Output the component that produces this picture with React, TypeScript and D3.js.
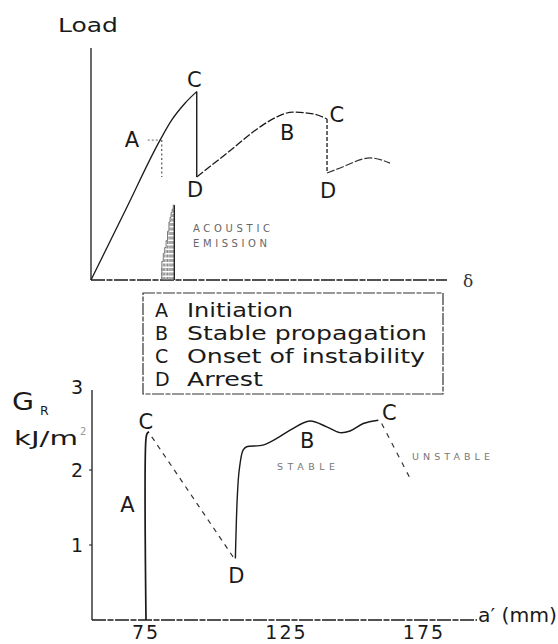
import React from "react";
import * as d3 from "d3";

// ---- Load–displacement record (arbitrary units: δ 0–100, load 0–100) ----
const loadInitiation: [number, number][] = [[0, 0], [9.7, 30.2], [19.4, 60.3], [22.7, 69], [26.4, 76.2], [29.7, 81.2]];
const loadFirstDrop: [number, number][] = [[29.7, 81.2], [29.7, 44.4]];
const loadStable: [number, number][] = [[29.7, 44.4], [38.2, 54.7], [47.5, 66], [52.2, 70.3], [56.7, 72.4], [62.4, 71.6], [66.3, 69.4]];
const loadSecondDrop: [number, number][] = [[66.3, 69.4], [66.3, 46.1]];
const loadTail: [number, number][] = [[66.3, 46.1], [70, 48.3], [78.4, 52.6], [84, 50.4]];
// initiation marker (δ, load)
const initiationPoint: [number, number] = [19.6, 60.3];
// acoustic emission bursts (δ, amplitude)
const acousticEmission: [number, number][] = [
  [19.9, 5.7], [20.3, 8], [20.7, 11.5], [21.1, 14], [21.5, 17], [21.9, 21], [22.2, 25], [22.5, 27], [22.8, 29], [23.1, 30.5], [23.4, 32.3],
];
const topLabels: { t: string; d: number; l: number }[] = [
  { t: "A", d: 9.5, l: 57.3 },
  { t: "C", d: 27.0, l: 83.0 },
  { t: "D", d: 27.0, l: 35.8 },
  { t: "B", d: 53.1, l: 60.3 },
  { t: "C", d: 67.0, l: 68.1 },
  { t: "D", d: 64.3, l: 35.3 },
];

// ---- Crack resistance G_R versus crack length a′ ----
const gInitiation: [number, number][] = [[75, 0], [75, 2.38], [75.4, 2.44], [76.1, 2.46]];
const gUnstable1: [number, number][] = [[77.1, 2.4], [106.7, 0.84]];
const gStable: [number, number][] = [
  [107.5, 0.82], [108.2, 1.64], [108.9, 2.0], [110.3, 2.24], [111.6, 2.28], [117.5, 2.3], [123, 2.39],
  [127.4, 2.48], [134.6, 2.59], [140.7, 2.52], [145.5, 2.45], [149.2, 2.47], [154, 2.56], [159.5, 2.6],
];
const gUnstable2: [number, number][] = [[160.7, 2.56], [171, 1.89]];
const gTicks = [1, 2, 3];
const aTicks = [75, 125, 175];
const bottomLabels: { t: string; a: number; g: number }[] = [
  { t: "C", a: 72.3, g: 2.5 },
  { t: "A", a: 65.6, g: 1.44 },
  { t: "D", a: 104.9, g: 0.49 },
  { t: "B", a: 131.0, g: 2.26 },
  { t: "C", a: 160.8, g: 2.6 },
];

const legendKeys = ["A", "B", "C", "D"];
const legendItems = ["Initiation", "Stable propagation", "Onset of instability", "Arrest"];
const legendWidths = [106, 240, 238, 76];

const FONT = "'DejaVu Sans', Verdana, sans-serif";
const INK = "#1a1a1a";

export default function App() {
  // top panel scales
  const xT = d3.scaleLinear().domain([0, 100]).range([91, 447]);
  const yT = d3.scaleLinear().domain([0, 100]).range([280, 48]);
  // bottom panel scales
  const xB = d3.scaleLinear().domain([75, 175]).range([146, 421]);
  const yB = d3.scaleLinear().domain([0, 1, 2, 3]).range([620, 545, 470, 387]);

  const lineT = d3.line<[number, number]>().x((d) => xT(d[0])).y((d) => yT(d[1])).curve(d3.curveMonotoneX);
  const lineTStraight = d3.line<[number, number]>().x((d) => xT(d[0])).y((d) => yT(d[1]));
  const lineB = d3.line<[number, number]>().x((d) => xB(d[0])).y((d) => yB(d[1])).curve(d3.curveCatmullRom);
  const lineBStraight = d3.line<[number, number]>().x((d) => xB(d[0])).y((d) => yB(d[1]));

  const bLeft = 92;
  const bRight = 477;
  const last = acousticEmission.length - 1;

  return (
    <svg
      width={558}
      height={644}
      viewBox="0 0 558 644"
      style={{ position: "absolute", left: 0, top: 0, background: "#fff" }}
      fontFamily={FONT}
    >
      <rect width={558} height={644} fill="#fff" />

      {/* ===== Load vs δ ===== */}
      <text x={58} y={32} fontSize={19} fill={INK} textLength={60} lengthAdjust="spacingAndGlyphs">Load</text>
      <line x1={xT(0)} y1={yT(0)} x2={xT(0)} y2={yT(100)} stroke={INK} strokeWidth={1.3} />
      <line x1={xT(0)} y1={yT(0)} x2={xT(100)} y2={yT(0)} stroke={INK} strokeWidth={1.3} strokeDasharray="14,1.5,6,1.5" />
      <text x={xT(100) + 16} y={yT(0) + 7} fontSize={17} fontFamily="'DejaVu Serif', serif" fill="#333">δ</text>

      {/* acoustic emission trace */}
      {acousticEmission.map((d, i) => (
        <line
          key={i}
          x1={xT(d[0])}
          x2={xT(d[0])}
          y1={yT(0)}
          y2={yT(d[1])}
          stroke={i === last ? "#222" : "#888"}
          strokeWidth={i === last ? 1.4 : 1}
          strokeDasharray={i === last ? undefined : "3,1.5"}
        />
      ))}
      <path
        d={d3.line<[number, number]>().x((d) => xT(d[0])).y((d) => yT(d[1])).curve(d3.curveStepBefore)([[acousticEmission[0][0], 0], ...acousticEmission]) || ""}
        fill="none"
        stroke="#666"
        strokeWidth={0.9}
      />
      <text x={193} y={232} fontSize={10} fill="#666" textLength={77} lengthAdjust="spacing">ACOUSTIC</text>
      <text x={193} y={247} fontSize={10} fill="#666" textLength={74} lengthAdjust="spacing">EMISSION</text>

      {/* initiation guides */}
      <line x1={xT(initiationPoint[0]) - 13} x2={xT(initiationPoint[0])} y1={yT(initiationPoint[1])} y2={yT(initiationPoint[1])} stroke="#666" strokeWidth={1} strokeDasharray="2,2" />
      <line x1={xT(initiationPoint[0]) + 1} x2={xT(initiationPoint[0]) + 1} y1={yT(initiationPoint[1])} y2={yT(initiationPoint[1]) + 37} stroke="#444" strokeWidth={1.1} strokeDasharray="2,2.5" />

      <path d={lineT(loadInitiation) || ""} fill="none" stroke={INK} strokeWidth={1.3} />
      <path d={lineTStraight(loadFirstDrop) || ""} fill="none" stroke={INK} strokeWidth={1.4} />
      <path d={lineT(loadStable) || ""} fill="none" stroke={INK} strokeWidth={1.3} strokeDasharray="8,2" />
      <path d={lineTStraight(loadSecondDrop) || ""} fill="none" stroke={INK} strokeWidth={1.3} strokeDasharray="4,2" />
      <path d={lineT(loadTail) || ""} fill="none" stroke="#333" strokeWidth={1.2} strokeDasharray="8,2" />

      {topLabels.map((l, i) => (
        <text key={i} x={xT(l.d)} y={yT(l.l)} fontSize={21} fill={INK}>{l.t}</text>
      ))}

      {/* legend */}
      <rect x={143} y={293} width={300} height={101} fill="none" stroke="#333" strokeWidth={1.2} strokeDasharray="12,1.5,5,1.5" />
      {legendItems.map((item, i) => (
        <g key={item}>
          <text x={155} y={317 + i * 23} fontSize={19} fill={INK}>{legendKeys[i]}</text>
          <text x={187} y={317 + i * 23} fontSize={19} fill={INK} textLength={legendWidths[i]} lengthAdjust="spacingAndGlyphs">{item}</text>
        </g>
      ))}

      {/* ===== G_R vs a′ ===== */}
      <text x={12} y={410} fontSize={24} fill={INK} textLength={22} lengthAdjust="spacingAndGlyphs">G</text>
      <text x={40} y={415} fontSize={12.5} fill={INK}>R</text>
      <text x={14} y={445} fontSize={20} fill={INK} textLength={64} lengthAdjust="spacingAndGlyphs">kJ/m</text>
      <text x={80} y={435} fontSize={10} fill="#999">2</text>

      <line x1={bLeft} y1={yB(0)} x2={bLeft} y2={yB(3) + 3} stroke={INK} strokeWidth={1.3} />
      <line x1={bLeft} y1={yB(0)} x2={bRight} y2={yB(0)} stroke={INK} strokeWidth={1.3} strokeDasharray="14,1.5,6,1.5" />
      {gTicks.map((t) => (
        <g key={t}>
          {t < 3 && <line x1={bLeft - 3} x2={bLeft} y1={yB(t)} y2={yB(t)} stroke={INK} strokeWidth={1} />}
          <text x={83} y={yB(t) + 7} fontSize={19} fill={INK} textAnchor="end">{t}</text>
        </g>
      ))}
      {aTicks.map((t) => (
        <text key={t} x={xB(t) + (t === 75 ? 0 : 3)} y={639} fontSize={19} fill={INK} textAnchor="middle" letterSpacing={2}>{t}</text>
      ))}
      <text x={bRight + 1} y={622} fontSize={20} fill={INK} textLength={79} lengthAdjust="spacingAndGlyphs">a′ (mm)</text>

      <path d={lineB(gInitiation) || ""} fill="none" stroke={INK} strokeWidth={1.7} />
      <path d={lineBStraight(gUnstable1) || ""} fill="none" stroke="#333" strokeWidth={1.2} strokeDasharray="5,5" />
      <path d={lineB(gStable) || ""} fill="none" stroke={INK} strokeWidth={1.4} />
      <path d={lineBStraight(gUnstable2) || ""} fill="none" stroke="#333" strokeWidth={1.2} strokeDasharray="5,6" />

      {bottomLabels.map((l, i) => (
        <text key={i} x={xB(l.a)} y={yB(l.g)} fontSize={21} fill={INK}>{l.t}</text>
      ))}
      <text x={277} y={470} fontSize={9.5} fill="#777" textLength={58} lengthAdjust="spacing">STABLE</text>
      <text x={412} y={460} fontSize={9.5} fill="#777" textLength={78} lengthAdjust="spacing">UNSTABLE</text>
    </svg>
  );
}
